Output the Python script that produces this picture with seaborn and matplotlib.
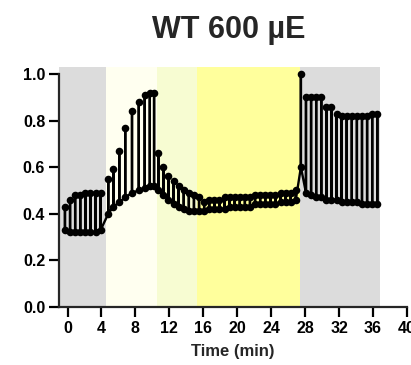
#### WT 600 uE fluorescence trace
# Saturating pulses: steady-state (fs) and pulse maximum (fm) at each time point,
# dark / actinic light / dark periods shaded behind.

import numpy as np
import pandas as pd
import matplotlib
matplotlib.use("Agg")
import matplotlib.pyplot as plt
import seaborn as sns

#%% Data
time_min = [-0.3, 0.3, 0.9, 1.5, 2.1, 2.7, 3.3, 3.9,
            4.8, 5.4, 6.1, 6.8, 7.6, 8.4, 9.1, 9.7, 10.2,
            10.7, 11.3, 11.9, 12.5, 13.1, 13.7, 14.3, 14.9, 15.5,
            16.1, 16.7, 17.3, 17.9, 18.5, 19.1, 19.7, 20.3, 20.9, 21.5,
            22.1, 22.7, 23.3, 23.9, 24.5, 25.1, 25.7, 26.3, 26.9,
            27.5,
            28.1, 28.7, 29.3, 29.9, 30.5, 31.1, 31.7, 32.3, 32.9, 33.5,
            34.1, 34.7, 35.3, 35.9, 36.5]

fs = [0.33, 0.32, 0.32, 0.32, 0.32, 0.32, 0.32, 0.33,
      0.40, 0.43, 0.45, 0.47, 0.49, 0.50, 0.51, 0.52, 0.52,
      0.50, 0.48, 0.46, 0.44, 0.43, 0.42, 0.41, 0.41, 0.41,
      0.41, 0.42, 0.42, 0.42, 0.42, 0.43, 0.43, 0.43, 0.43, 0.43,
      0.44, 0.44, 0.44, 0.44, 0.44, 0.45, 0.45, 0.45, 0.46,
      0.60,
      0.49, 0.48, 0.47, 0.47, 0.46, 0.46, 0.46, 0.45, 0.45, 0.45,
      0.45, 0.44, 0.44, 0.44, 0.44]

fm = [0.43, 0.46, 0.48, 0.48, 0.49, 0.49, 0.49, 0.49,
      0.55, 0.59, 0.67, 0.77, 0.84, 0.88, 0.91, 0.92, 0.92,
      0.66, 0.60, 0.56, 0.54, 0.52, 0.50, 0.49, 0.48, 0.47,
      0.45, 0.46, 0.46, 0.46, 0.47, 0.47, 0.47, 0.47, 0.47, 0.47,
      0.48, 0.48, 0.48, 0.48, 0.48, 0.49, 0.49, 0.49, 0.50,
      1.00,
      0.90, 0.90, 0.90, 0.90, 0.86, 0.86, 0.83, 0.82, 0.82, 0.82,
      0.82, 0.82, 0.82, 0.83, 0.83]

# light periods (start, end, colour)
periods = [(-1.0, 4.5, "#dcdcdc"),
           (4.5, 10.5, "#fffff0"),
           (10.5, 15.3, "#f7fcd2"),
           (15.3, 27.4, "#ffff9c"),
           (27.4, 36.8, "#dcdcdc")]

xticks = [0, 4, 8, 12, 16, 20, 24, 28, 32, 36, 40]
yticks = [0.0, 0.2, 0.4, 0.6, 0.8, 1.0]

#%% each pulse: fs -> fm -> back to fs at the same time (vertical needle)
trace = pd.DataFrame({
    "t": np.repeat(time_min, 3),
    "F": np.ravel(np.column_stack([fs, fm, fs])),
})

#%% Figure appearance
sns.set_style("ticks")
plt.rcParams['font.family'] = ['Liberation Sans', 'DejaVu Sans']

fig = plt.figure(figsize=(4.11, 3.65), dpi=100)
ax = fig.add_axes([0.1436, 0.159, 0.8466, 0.6575])

for start, end, col in periods:
    ax.axvspan(start, end, color=col, lw=0, zorder=0)

sns.lineplot(data=trace, x="t", y="F", sort=False, estimator=None,
             color="black", lw=1.7, ax=ax, zorder=3)
sns.scatterplot(x=time_min, y=fs, color="black", s=30, lw=0, ax=ax, zorder=4)
sns.scatterplot(x=time_min, y=fm, color="black", s=30, lw=0, ax=ax, zorder=4)

ax.set_xlim(-1, 40)
ax.set_ylim(0, 1.03)
ax.set_xticks(xticks)
ax.set_yticks(yticks)
ax.set_yticklabels([f"{v:.1f}" for v in yticks])
ax.spines['left'].set_bounds(0, 1.0)
ax.spines['bottom'].set_bounds(-1, 40)
sns.despine(ax=ax)
for s in ['left', 'bottom']:
    ax.spines[s].set_linewidth(1.6)
ax.tick_params(axis='both', length=7, width=1.6, pad=3,
               labelsize=11.5, color='black', labelcolor='black')
for lab in ax.get_xticklabels() + ax.get_yticklabels():
    lab.set_fontweight('bold')

ax.set_xlabel("Time (min)", fontsize=12, fontweight='bold', labelpad=6)
ax.set_ylabel("")
fig.suptitle("WT 600 µE", x=0.557, y=0.958, fontsize=22, fontweight='bold')

plt.savefig("out.png", dpi=100)
